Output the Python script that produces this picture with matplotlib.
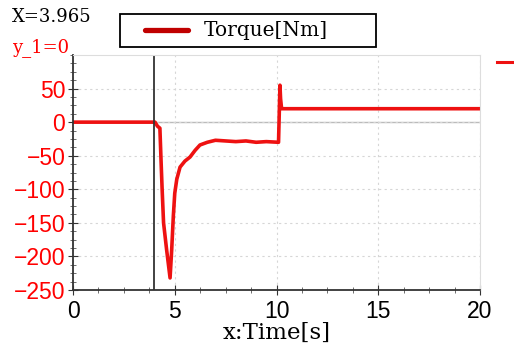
import numpy as np
import matplotlib.pyplot as plt
from matplotlib.lines import Line2D
from matplotlib.patches import Rectangle
from matplotlib.ticker import MultipleLocator

# torque trace sampled from the run
time_s = [0.0, 3.9, 4.03, 4.15, 4.27, 4.33, 4.38, 4.45, 4.6, 4.77,
          4.85, 4.93, 5.0, 5.1, 5.26, 5.5, 5.75, 6.0, 6.24, 6.6,
          7.0, 7.5, 8.0, 8.5, 9.0, 9.5, 10.1, 10.17, 10.2, 10.25, 10.3, 20.0]
torque_nm = [0, 0, 0, -6, -9, -60, -100, -150, -190, -232,
             -190, -140, -106, -85, -67, -58, -52, -42, -34, -30,
             -27, -28, -29, -28, -30, -29, -30, 55, 35, 20, 20, 20]

cursor_x = 3.965
y_ticks = [50, 0, -50, -100, -150, -200, -250]
x_ticks = [0, 5, 10, 15, 20]

serif = 'DejaVu Serif'
red = '#ee1111'

fig = plt.figure(figsize=(5.14, 3.51), dpi=100)
ax = fig.add_axes([73/514, 1-290/351, 407/514, 235/351])

ax.plot(time_s, torque_nm, color=red, lw=2.6, solid_joinstyle='round')
ax.axvline(cursor_x, color='#333333', lw=1.3)
ax.axhline(0, color='#bbbbbb', lw=1, zorder=0)

ax.set_xlim(0, 20)
ax.set_ylim(-250, 100)
ax.set_xticks(x_ticks)
ax.set_yticks(y_ticks)
ax.xaxis.set_minor_locator(MultipleLocator(1.25))
ax.yaxis.set_minor_locator(MultipleLocator(12.5))
ax.grid(True, which='major', color='#d6d6d6', ls=(0, (2, 3)), lw=0.8)

ax.tick_params(axis='y', which='major', direction='inout', length=7,
               labelcolor='#ff0000', labelsize=16.5, pad=2, color='#333333')
ax.tick_params(axis='x', which='major', direction='inout', length=7,
               labelsize=16.5, pad=4, color='#333333')
ax.tick_params(which='minor', direction='inout', length=4, color='#555555')
for lab in ax.get_xticklabels() + ax.get_yticklabels():
    lab.set_family('Liberation Sans')

ax.spines['left'].set_color('#333333')
ax.spines['bottom'].set_color('#333333')
ax.spines['left'].set_linewidth(1.3)
ax.spines['bottom'].set_linewidth(1.3)
ax.spines['top'].set_color('#dddddd')
ax.spines['right'].set_color('#dddddd')

ax.set_xlabel('x:Time[s]', family=serif, fontsize=16.5, labelpad=-1)

fig.text(12/514, 1-17/351, 'X=3.965', family=serif, fontsize=13,
         va='center', ha='left')
fig.text(12/514, 1-48/351, 'y_1=0', family=serif, fontsize=13,
         va='center', ha='left', color='#ff0000')

# legend box drawn by hand in figure coordinates
fig.add_artist(Rectangle((120/514, 1-47/351), 256/514, 33/351,
                         transform=fig.transFigure, facecolor='white',
                         edgecolor='black', lw=1.3))
fig.add_artist(Line2D([145/514, 188/514], [1-30/351, 1-30/351],
                      color='#c00000', lw=3.8, solid_capstyle='round'))
fig.text(204/514, 1-30/351, 'Torque[Nm]', family=serif, fontsize=14.5,
         va='center', ha='left')

# series marker at the right edge
fig.add_artist(Line2D([497/514, 512/514], [1-62/351, 1-62/351],
                      color=red, lw=2.2))

fig.savefig('out.png', dpi=100)
